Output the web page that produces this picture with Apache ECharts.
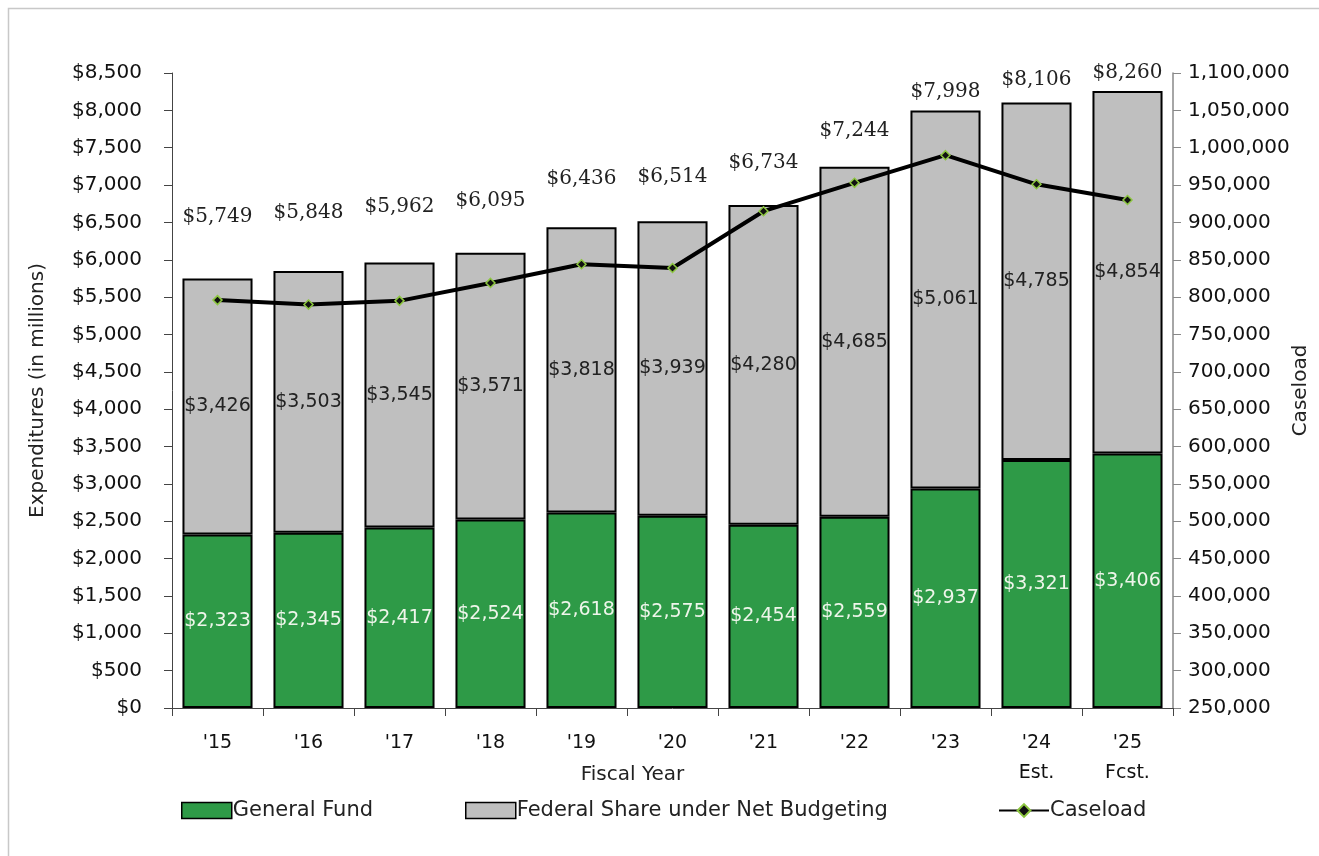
<!DOCTYPE html>
<html>
<head>
<meta charset="utf-8">
<script src="https://cdn.jsdelivr.net/npm/echarts@6/dist/echarts.min.js"></script>
<style>
html,body{margin:0;padding:0;background:#fff;}
#chart{width:1319px;height:856px;}
</style>
</head>
<body>
<div id="chart"></div>
<script>
const categories = ["'15", "'16", "'17", "'18", "'19", "'20", "'21", "'22", "'23", "'24\nEst.", "'25\nFcst."];
const generalFund = [2323, 2345, 2417, 2524, 2618, 2575, 2454, 2559, 2937, 3321, 3406];
const federalShare = [3426, 3503, 3545, 3571, 3818, 3939, 4280, 4685, 5061, 4785, 4854];
const totals = [5749, 5848, 5962, 6095, 6436, 6514, 6734, 7244, 7998, 8106, 8260];
const caseload = [796000, 790000, 795000, 819000, 844000, 839000, 915000, 953000, 990000, 951000, 930000];
const leftTicks = {min: 0, max: 8500, interval: 500};
const rightTicks = {min: 250000, max: 1100000, interval: 50000};
// label distances above bar tops (style only)
const totalLabelGap = [52, 48, 46, 42, 38, 35, 32, 26, 9, 13, 8];

const fmt$ = v => '$' + v.toLocaleString('en-US');
const sans = 'DejaVu Sans';
const legendText = {fontFamily: sans, fontSize: 21, color: '#222', padding: [0, 0, 0, -4]};

const chart = echarts.init(document.getElementById('chart'), null, {renderer: 'canvas'});
chart.setOption({
  animation: false,
  backgroundColor: '#fff',
  graphic: [{
    type: 'rect', left: 6, top: 6, shape: {width: 1400, height: 900},
    style: {fill: 'none', stroke: '#c8c8c8', lineWidth: 1.5}, silent: true
  }],
  grid: {left: 172, right: 144, top: 73, bottom: 148, containLabel: false},
  legend: [{
    bottom: 30, left: 176, itemWidth: 50, itemHeight: 16, textStyle: legendText,
    data: [{name: 'General Fund', icon: 'rect', itemStyle: {borderColor: '#000', borderWidth: 1.5}}]
  }, {
    bottom: 30, left: 460, itemWidth: 50, itemHeight: 16, textStyle: legendText,
    data: [{name: 'Federal Share under Net Budgeting', icon: 'rect', itemStyle: {borderColor: '#000', borderWidth: 1.5}}]
  }, {
    bottom: 30, left: 993, itemWidth: 50, itemHeight: 16, textStyle: legendText,
    data: [{name: 'Caseload'}]
  }],
  xAxis: {
    type: 'category', data: categories,
    name: 'Fiscal Year', nameLocation: 'middle', nameGap: 57, nameMoveOverlap: false,
    nameTextStyle: {fontFamily: sans, fontSize: 20, color: '#222', padding: [0, 80, 0, 0]},
    axisLine: {lineStyle: {color: '#444', width: 1}},
    axisTick: {show: true, length: 8, lineStyle: {color: '#444'}},
    axisLabel: {fontFamily: sans, fontSize: 19, color: '#111', margin: 20, lineHeight: 30}
  },
  yAxis: [{
    type: 'value', min: leftTicks.min, max: leftTicks.max, interval: leftTicks.interval,
    name: 'Expenditures (in millions)', nameLocation: 'middle', nameGap: 124, nameRotate: 90,
    nameMoveOverlap: false,
    nameTextStyle: {fontFamily: sans, fontSize: 20, color: '#222'},
    splitLine: {show: false},
    axisLine: {show: true, lineStyle: {color: '#444'}},
    axisTick: {show: true, length: 8, lineStyle: {color: '#444'}},
    axisLabel: {fontFamily: sans, fontSize: 20, color: '#111', margin: 30, formatter: v => fmt$(v)}
  }, {
    type: 'value', min: rightTicks.min, max: rightTicks.max, interval: rightTicks.interval,
    name: 'Caseload', nameLocation: 'middle', nameGap: 138, nameRotate: 90,
    nameMoveOverlap: false,
    nameTextStyle: {fontFamily: sans, fontSize: 20, color: '#222', verticalAlign: 'bottom'},
    position: 'right',
    splitLine: {show: false},
    axisLine: {show: true, lineStyle: {color: '#888', width: 1.5}},
    axisTick: {show: true, length: 8, lineStyle: {color: '#888'}},
    axisLabel: {fontFamily: sans, fontSize: 20, color: '#111', margin: 15, formatter: v => v.toLocaleString('en-US')}
  }],
  series: [{
    name: 'General Fund', type: 'bar', stack: 'exp', data: generalFund,
    barCategoryGap: '23%',
    itemStyle: {color: '#2e9a47', borderColor: '#000', borderWidth: 2},
    label: {show: true, position: 'inside', fontFamily: sans, fontSize: 19, color: '#eef5ea', formatter: p => fmt$(p.value)}
  }, {
    name: 'Federal Share under Net Budgeting', type: 'bar', stack: 'exp', data: federalShare,
    itemStyle: {color: '#bfbfbf', borderColor: '#000', borderWidth: 2},
    label: {show: true, position: 'inside', fontFamily: sans, fontSize: 19, color: '#222', formatter: p => fmt$(p.value)}
  }, {
    name: 'totals', type: 'bar', stack: 'exp',
    data: totals.map((t, i) => ({
      value: 0,
      label: {show: true, position: 'top', distance: totalLabelGap[i], formatter: fmt$(t)}
    })),
    itemStyle: {color: 'transparent', borderWidth: 0},
    label: {fontFamily: 'DejaVu Serif', fontSize: 20, color: '#222'},
    tooltip: {show: false}
  }, {
    name: 'Caseload', type: 'line', yAxisIndex: 1, data: caseload,
    symbol: 'diamond', symbolSize: 9, showAllSymbol: true,
    lineStyle: {color: '#000', width: 4},
    itemStyle: {color: '#111', borderColor: '#8cc63f', borderWidth: 1.5},
    z: 10
  }]
});
</script>
</body>
</html>
